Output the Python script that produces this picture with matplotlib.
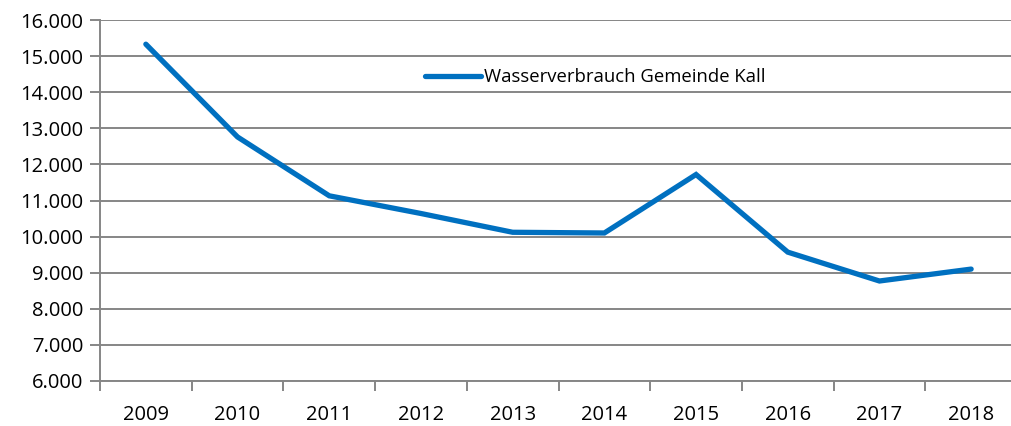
import matplotlib.pyplot as plt
from matplotlib.ticker import FuncFormatter, FixedLocator

# Data
years = ['2009', '2010', '2011', '2012', '2013', '2014', '2015', '2016', '2017', '2018']
verbrauch = [15330, 12760, 11130, 10640, 10120, 10100, 11720, 9570, 8770, 9100]

BLUE = '#0070C0'
GRID = '#868686'

plt.rcParams['font.family'] = ['Open Sans', 'DejaVu Sans']

fig = plt.figure(figsize=(10.12, 4.26), dpi=100)
# plot area runs a little past the right edge of the image, as in the original
ax = fig.add_axes([100 / 1012, 1 - 381 / 426, 917 / 1012, 361 / 426])

x = list(range(len(years)))
ax.plot(x, verbrauch, color=BLUE, linewidth=3.8, solid_capstyle='round',
        solid_joinstyle='miter', label='Wasserverbrauch Gemeinde Kall', zorder=3)

ax.set_xlim(-0.5, len(years) - 0.5)
ax.set_ylim(6000, 16000)
ax.set_yticks(range(6000, 16001, 1000))
ax.yaxis.set_major_formatter(FuncFormatter(lambda v, p: f'{v / 1000:.3f}'))
ax.yaxis.grid(True, color=GRID, linewidth=1.4)
ax.set_axisbelow(True)

ax.set_xticks(x)
ax.set_xticklabels(years)
ax.xaxis.set_minor_locator(FixedLocator([i - 0.5 for i in range(len(years) + 1)]))
ax.tick_params(axis='x', which='major', length=0, pad=17, labelsize=14.5)
ax.tick_params(axis='x', which='minor', length=7, width=1.4, color=GRID, direction='out')
ax.tick_params(axis='y', length=7, width=1.4, color=GRID, pad=5, labelsize=14.5)

for s in ['top', 'right']:
    ax.spines[s].set_visible(False)
for s in ['left', 'bottom']:
    ax.spines[s].set_color(GRID)
    ax.spines[s].set_linewidth(1.4)

ax.legend(loc='center', bbox_to_anchor=(0.540, 0.842), frameon=False,
          fontsize=13.3, handlelength=3.0, handletextpad=0.15)

fig.savefig('out.png', dpi=100)
